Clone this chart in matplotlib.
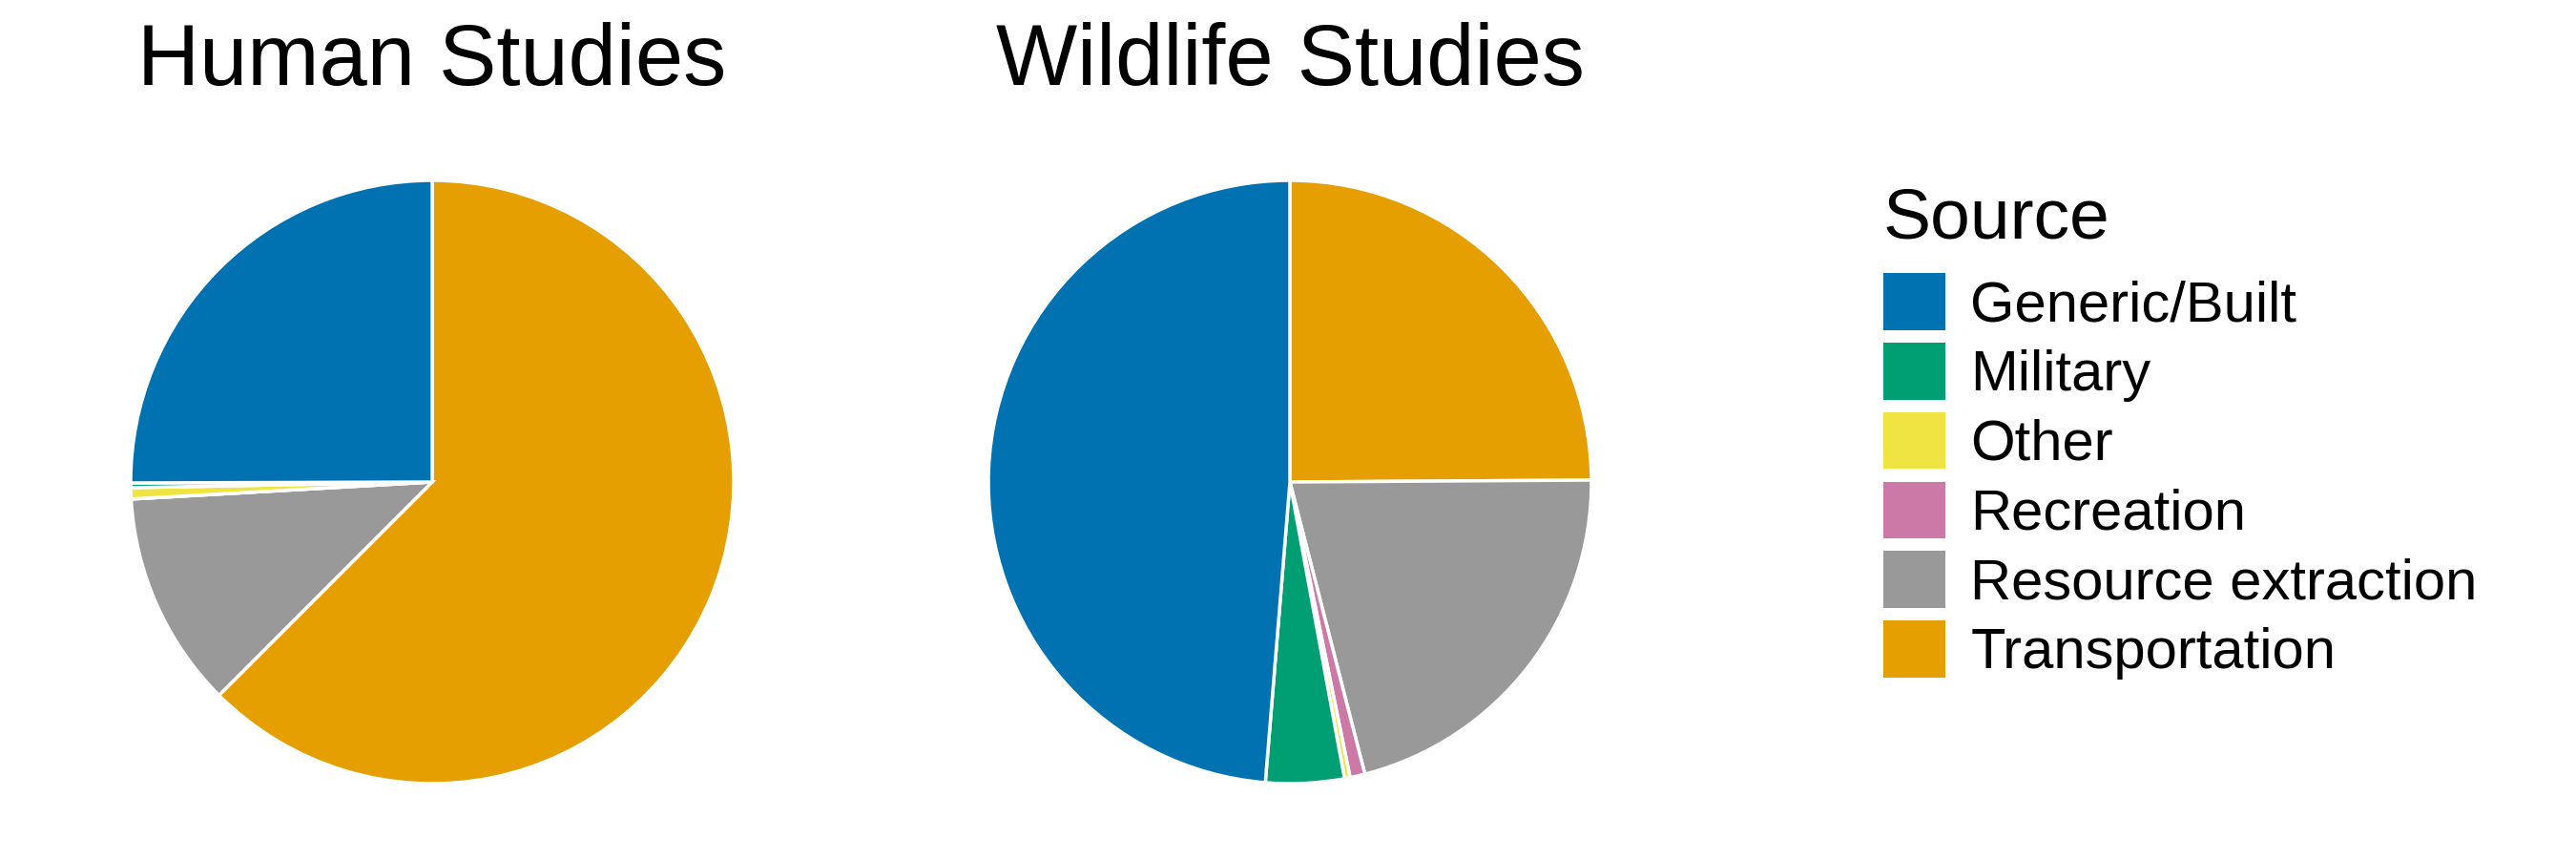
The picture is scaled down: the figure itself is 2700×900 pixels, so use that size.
import matplotlib
matplotlib.use("Agg")
import matplotlib.pyplot as plt
from matplotlib.patches import Patch

# share of studies by noise source (percent)
sources = ["Generic/Built", "Military", "Other", "Recreation",
           "Resource extraction", "Transportation"]
human_pct = [25.05, 0.25, 0.6, 0.0, 11.6, 62.5]
wildlife_pct = [48.7, 4.2, 0.3, 0.8, 21.1, 24.9]
panel_titles = ["Human Studies", "Wildlife Studies"]
colors = ["#0072B2", "#009E73", "#F0E442", "#CC79A7", "#999999", "#E69F00"]

plt.rcParams["font.family"] = ["Liberation Sans", "DejaVu Sans"]

W, H = 2700, 900
fig = plt.figure(figsize=(W / 100, H / 100), dpi=100)

centers_x = [453, 1352]
center_y = 505
radius = 316

for cx, title, vals in zip(centers_x, panel_titles, [human_pct, wildlife_pct]):
    ax = fig.add_axes([(cx - radius) / W, (H - center_y - radius) / H,
                       2 * radius / W, 2 * radius / H])
    # ggplot stacks the first level last, so draw in reverse, clockwise from 12
    wedges, _ = ax.pie(vals[::-1], colors=colors[::-1], startangle=90,
                       counterclock=False,
                       wedgeprops=dict(edgecolor="white", linewidth=2.5))
    for w in wedges:
        w.set_clip_on(False)
    ax.set_xlim(-1, 1)
    ax.set_ylim(-1, 1)
    ax.axis("off")
    fig.text(cx / W, 1 - 89 / H, title, ha="center", va="baseline",
             fontsize=65)

handles = [Patch(facecolor=c, edgecolor="none") for c in colors]
leg = fig.legend(handles, sources, loc="upper left",
                 bbox_to_anchor=(1974 / W, 1 - 195 / H),
                 frameon=False, fontsize=43, title="Source",
                 title_fontsize=54, handlelength=1.08, handleheight=1.16,
                 handletextpad=0.45, labelspacing=0.18, borderpad=0.0,
                 borderaxespad=0.0, alignment="left")
leg._legend_box.sep = 16

fig.savefig("out.png", dpi=100, facecolor="white")
